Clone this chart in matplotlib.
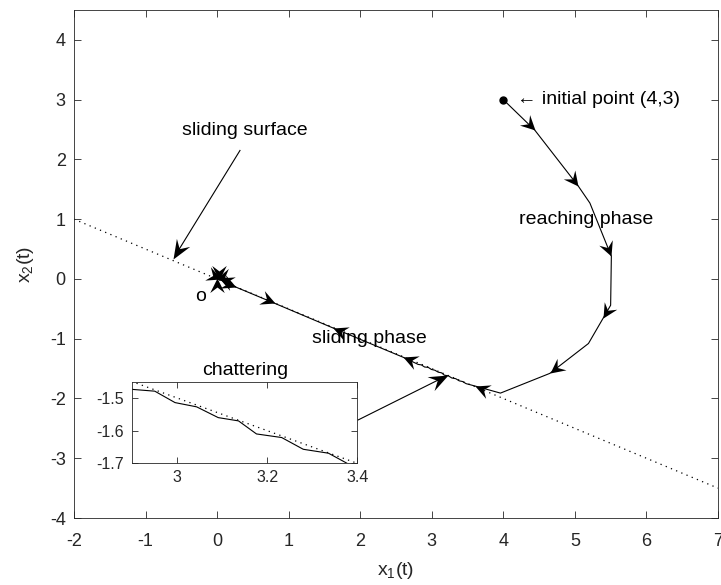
import numpy as np
import matplotlib
matplotlib.use("Agg")
import matplotlib.pyplot as plt
from matplotlib.markers import MarkerStyle
from matplotlib.path import Path
from matplotlib.transforms import Affine2D

plt.rcParams['font.family'] = ['Liberation Sans', 'DejaVu Sans']
plt.rcParams['mathtext.default'] = 'regular'
plt.rcParams['axes.unicode_minus'] = False

# Phase-plane trajectory (x1, x2): reaching phase, then chattering slide to origin
traj_x1 = [4.00, 4.44, 5.05, 5.21, 5.51, 5.50, 5.19, 4.65, 3.96,
           3.60, 3.48, 3.43, 3.384, 3.336, 3.280, 3.232, 3.176, 3.136,
           3.091, 3.043, 2.995, 2.950, 2.900, 2.855, 2.81, 2.60, 1.62,
           0.81, 0.27, 0.02]
traj_x2 = [3.00, 2.49, 1.55, 1.27, 0.38, -0.44, -1.08, -1.58, -1.91,
           -1.79, -1.752, -1.716, -1.705, -1.669, -1.657, -1.621, -1.610, -1.570,
           -1.560, -1.527, -1.514, -1.479, -1.4735, -1.438, -1.43, -1.31, -0.82,
           -0.41, -0.14, 0.00]

# Direction arrowheads along the trajectory: tip position and heading
arrow_x1 = [4.44, 5.05, 5.51, 5.39, 4.65, 3.60, 2.60, 1.62, 0.81, 0.27,
            0.05, 0.02, 0.00, 0.03, -0.02]
arrow_x2 = [2.49, 1.55, 0.38, -0.65, -1.58, -1.79, -1.31, -0.82, -0.41, -0.14,
            0.00, 0.02, 0.01, -0.01, 0.00]
arrow_dx = [0.44, 0.61, 0.30, -0.21, -0.54, -1.0, -1.0, -1.0, 1.0, 1.0,
            1.0, -1.0, 0.0, 0.0, -1.0]
arrow_dy = [-0.51, -0.94, -0.89, -0.42, -0.50, 0.5, 0.5, 0.5, -0.5, -0.5,
            -0.5, 0.5, 1.0, -1.0, -0.3]

# Sliding surface s = x2 + 0.5 x1 = 0
surface_slope = -0.5
surface_x1 = [-2.0, 7.0]

initial_point = (4.0, 3.0)

x_ticks = [-2, -1, 0, 1, 2, 3, 4, 5, 6, 7]
y_ticks = [-4, -3, -2, -1, 0, 1, 2, 3, 4]
inset_xticks = [3.0, 3.2, 3.4]
inset_yticks = [-1.7, -1.6, -1.5]
inset_xticklabels = ['3', '3.2', '3.4']
inset_yticklabels = ['-1.7', '-1.6', '-1.5']

AXIS_COLOR = '#262626'


def stealth_path(half_width):
    # arrowhead with its tip at the origin, pointing along +x
    return Path([(0, 0), (-1, half_width), (-0.62, 0), (-1, -half_width), (0, 0)],
                [Path.MOVETO, Path.LINETO, Path.LINETO, Path.LINETO, Path.CLOSEPOLY])


def stealth_head(ax, x, y, dx, dy, size, half_width=0.5):
    p0 = ax.transData.transform((x, y))
    p1 = ax.transData.transform((x + 0.01 * dx, y + 0.01 * dy))
    ang = np.degrees(np.arctan2(p1[1] - p0[1], p1[0] - p0[0]))
    m = MarkerStyle(stealth_path(half_width), transform=Affine2D().rotate_deg(ang))
    ax.plot([x], [y], marker=m, markersize=size, color='black',
            markeredgewidth=0, linestyle='none', zorder=5, clip_on=False)


def style_axes(ax, fs, pad):
    for sp in ax.spines.values():
        sp.set_color(AXIS_COLOR)
        sp.set_linewidth(0.6)
    ax.tick_params(direction='in', top=True, right=True, length=5,
                   width=0.6, colors=AXIS_COLOR, labelsize=fs)
    ax.tick_params(axis='x', pad=pad)
    ax.tick_params(axis='y', pad=6)
    for lab in ax.get_xticklabels() + ax.get_yticklabels():
        lab.set_color(AXIS_COLOR)


fig = plt.figure(figsize=(7.21, 5.85), dpi=100)
ax = fig.add_axes([0.1026, 0.1145, 0.8932, 0.8684])
ax.set_xlim(-2, 7)
ax.set_ylim(-4, 4.5)
ax.set_xticks(x_ticks)
ax.set_yticks(y_ticks)
style_axes(ax, 13, 11)

sx = np.array(surface_x1)
ax.plot(sx, surface_slope * sx, color='black', linestyle=(0, (1, 3.5)), linewidth=0.9)
ax.plot(traj_x1, traj_x2, color='black', linewidth=0.8)
ax.plot([initial_point[0]], [initial_point[1]], 'o', color='black', markersize=5)

for x, y, dx, dy in zip(arrow_x1, arrow_x2, arrow_dx, arrow_dy):
    stealth_head(ax, x, y, dx, dy, 21)

ax.set_xlabel(r'x$_1$(t)', fontsize=14, color=AXIS_COLOR, labelpad=7)
ax.set_ylabel(r'x$_2$(t)', fontsize=14, color=AXIS_COLOR, labelpad=10)

ax.text(4.19, 3.01, '\u2190 initial point (4,3)', fontsize=14, va='center', ha='left')
ax.text(0.39, 2.48, 'sliding surface', fontsize=14, va='center', ha='center')
ax.text(4.22, 0.99, 'reaching phase', fontsize=14, va='center', ha='left')
ax.text(1.33, -0.99, 'sliding phase', fontsize=14, va='center', ha='left')
ax.text(-0.225, -0.30, 'o', fontsize=14, va='center', ha='center')

# pointer to the sliding surface
ax.plot([0.32, -0.57], [2.15, 0.42], color='black', linewidth=0.8)
stealth_head(ax, -0.61, 0.34, -0.89, -1.76, 28, 0.4)

# pointer from the zoomed view to the chattering region
ax.plot([1.97, 3.15], [-2.36, -1.655], color='black', linewidth=0.8)
stealth_head(ax, 3.23, -1.607, 1.26, 0.75, 28, 0.4)

# zoomed view of the chattering
ins = fig.add_axes([0.1835, 0.208, 0.312, 0.1395])
ins.set_xlim(2.9, 3.4)
ins.set_ylim(-1.7, -1.45)
ins.plot(sx, surface_slope * sx, color='black', linestyle=(0, (1, 3.5)), linewidth=0.9)
ins.plot(traj_x1, traj_x2, color='black', linewidth=0.8)
ins.set_xticks(inset_xticks)
ins.set_xticklabels(inset_xticklabels)
ins.set_yticks(inset_yticks)
ins.set_yticklabels(inset_yticklabels)
style_axes(ins, 11.5, 5)
ins.tick_params(length=4)
ins.set_title('chattering', fontsize=14, pad=5)

fig.savefig('out.png', dpi=100)
